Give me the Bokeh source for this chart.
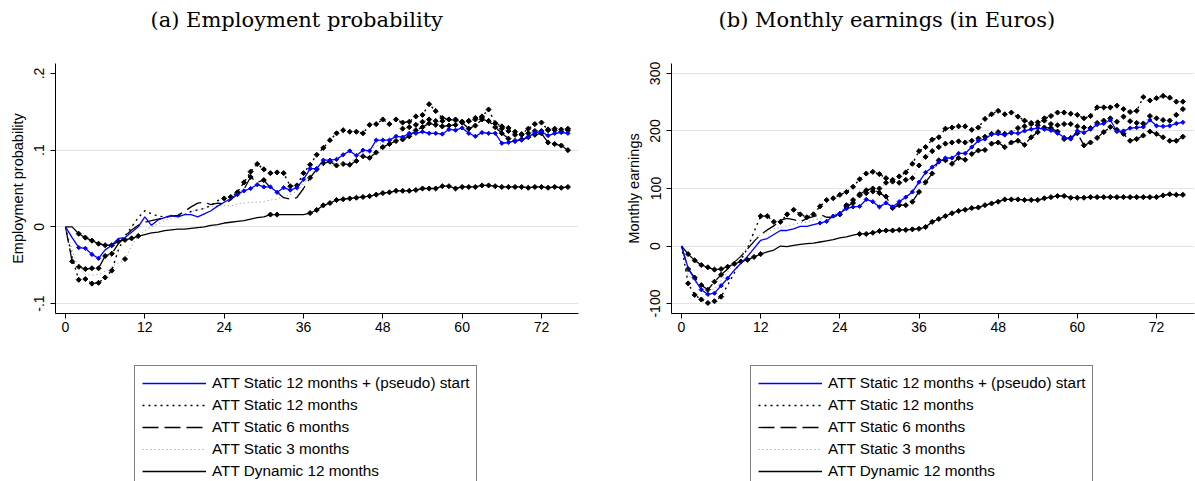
import math
from bokeh.plotting import figure
from bokeh.models import Range1d, FixedTicker, Legend, LegendItem, Title
from bokeh.layouts import row, column
from bokeh.embed import file_html
from bokeh.resources import INLINE

months = list(range(77))
x_ticks = [0, 12, 24, 36, 48, 60, 72]

series_labels = ["ATT Static 12 months + (pseudo) start", "ATT Static 12 months",
                 "ATT Static 6 months", "ATT Static 3 months", "ATT Dynamic 12 months"]

# ---------------- (a) Employment probability ----------------
emp_pseudo = [0, -0.014, -0.027, -0.028, -0.036, -0.041, -0.030, -0.024, -0.015, -0.014,
              -0.007, 0.000, 0.013, 0.002, 0.009, 0.012, 0.015, 0.013, 0.016, 0.016,
              0.013, 0.017, 0.021, 0.027, 0.032, 0.037, 0.042, 0.047, 0.050, 0.055,
              0.052, 0.052, 0.045, 0.051, 0.048, 0.051, 0.062, 0.076, 0.076, 0.087,
              0.087, 0.088, 0.094, 0.099, 0.093, 0.100, 0.099, 0.113, 0.113, 0.113,
              0.118, 0.117, 0.122, 0.122, 0.124, 0.122, 0.122, 0.121, 0.127, 0.126,
              0.129, 0.122, 0.118, 0.123, 0.122, 0.122, 0.109, 0.110, 0.112, 0.113,
              0.117, 0.123, 0.124, 0.119, 0.122, 0.123, 0.122]
emp_s12 = [0, -0.040, -0.069, -0.068, -0.074, -0.073, -0.066, -0.057, -0.030, -0.012,
           0.000, 0.012, 0.021, 0.017, 0.014, 0.013, 0.014, 0.015, 0.016, 0.020,
           0.022, 0.024, 0.028, 0.034, 0.037, 0.039, 0.045, 0.058, 0.072, 0.082,
           0.075, 0.070, 0.071, 0.070, 0.053, 0.054, 0.070, 0.081, 0.094, 0.103,
           0.113, 0.122, 0.126, 0.124, 0.124, 0.122, 0.133, 0.134, 0.140, 0.134,
           0.140, 0.136, 0.137, 0.144, 0.146, 0.160, 0.151, 0.142, 0.140, 0.139,
           0.137, 0.138, 0.142, 0.144, 0.153, 0.135, 0.131, 0.129, 0.124, 0.121,
           0.128, 0.134, 0.136, 0.126, 0.128, 0.124, 0.128]
emp_s6 = [0, -0.045, -0.052, -0.055, -0.054, -0.054, -0.038, -0.035, -0.022, -0.012,
          -0.004, 0.002, 0.006, 0.008, 0.010, 0.012, 0.014, 0.015, 0.020, 0.026,
          0.031, 0.032, 0.029, 0.031, 0.030, 0.035, 0.043, 0.049, 0.065, 0.058,
          0.061, 0.051, 0.045, 0.038, 0.036, 0.038, 0.050, 0.064, 0.075, 0.083,
          0.085, 0.080, 0.082, 0.081, 0.086, 0.092, 0.090, 0.097, 0.104, 0.108,
          0.112, 0.114, 0.118, 0.126, 0.130, 0.135, 0.133, 0.131, 0.132, 0.133,
          0.136, 0.128, 0.132, 0.140, 0.138, 0.130, 0.122, 0.115, 0.112, 0.114,
          0.117, 0.120, 0.122, 0.110, 0.108, 0.106, 0.100]
emp_s3 = [0, -0.030, -0.055, -0.062, -0.063, -0.062, -0.058, -0.052, -0.047, -0.042,
          -0.025, -0.012, -0.005, 0.000, 0.004, 0.008, 0.011, 0.012, 0.016, 0.020,
          0.022, 0.024, 0.026, 0.028, 0.028, 0.027, 0.030, 0.031, 0.032, 0.032,
          0.033, 0.035, 0.036, 0.040, 0.042, 0.046, 0.056, 0.067, 0.078, 0.082,
          0.084, 0.083, 0.082, 0.085, 0.090, 0.095, 0.100, 0.105, 0.110, 0.112,
          0.118, 0.128, 0.130, 0.133, 0.137, 0.140, 0.138, 0.138, 0.140, 0.140,
          0.137, 0.138, 0.140, 0.142, 0.138, 0.135, 0.128, 0.125, 0.120, 0.120,
          0.122, 0.125, 0.125, 0.127, 0.126, 0.127, 0.126]
emp_dyn = [0, 0.000, -0.009, -0.014, -0.018, -0.022, -0.024, -0.024, -0.019, -0.017,
           -0.015, -0.012, -0.010, -0.008, -0.007, -0.005, -0.004, -0.003, -0.003, -0.002,
           -0.001, 0.000, 0.002, 0.003, 0.005, 0.006, 0.007, 0.008, 0.010, 0.012,
           0.013, 0.016, 0.016, 0.016, 0.016, 0.016, 0.016, 0.018, 0.022, 0.028,
           0.031, 0.035, 0.036, 0.037, 0.038, 0.039, 0.040, 0.042, 0.044, 0.045,
           0.047, 0.047, 0.047, 0.048, 0.050, 0.050, 0.050, 0.053, 0.053, 0.050,
           0.052, 0.052, 0.052, 0.054, 0.054, 0.053, 0.052, 0.052, 0.052, 0.052,
           0.051, 0.052, 0.052, 0.051, 0.052, 0.051, 0.052]
# months with a marker (significant estimates)
emp_mark_pseudo = [2, 3, 4, 5] + list(range(26, 77))
emp_mark_s12 = [2, 3, 4, 5, 6, 7] + list(range(24, 77))
emp_mark_s6 = [1, 2, 3, 4, 5, 6, 7, 28, 30] + list(range(37, 77))
emp_mark_s3 = [9] + list(range(51, 77))
emp_mark_dyn = list(range(2, 12)) + [31, 32] + list(range(37, 77))
emp_yticks = [-0.1, 0, 0.1, 0.2]
emp_ytick_labels = ["-.1", "0", ".1", ".2"]
emp_grid = [-0.1, 0, 0.1]

# ---------------- (b) Monthly earnings ----------------
earn_pseudo = [0, -38, -58, -76, -84, -82, -69, -56, -42, -30,
               -18, -4, 10, 13, 20, 27, 27, 30, 34, 34,
               37, 40, 43, 52, 57, 65, 68, 69, 81, 77,
               68, 75, 68, 77, 85, 94, 111, 128, 137, 146,
               153, 153, 161, 161, 172, 183, 186, 194, 195, 193,
               197, 196, 200, 203, 205, 203, 201, 196, 189, 186,
               200, 197, 203, 211, 213, 219, 199, 200, 205, 206,
               207, 219, 209, 208, 209, 213, 215]
earn_s12 = [0, -65, -85, -93, -99, -96, -88, -68, -47, -24,
            -4, 25, 52, 52, 42, 42, 55, 63, 55, 50,
            55, 69, 80, 83, 89, 94, 103, 116, 126, 129,
            125, 118, 115, 121, 128, 143, 165, 172, 185, 189,
            204, 206, 208, 208, 202, 206, 221, 229, 235, 229,
            232, 225, 218, 214, 210, 222, 226, 232, 232, 230,
            228, 222, 226, 241, 241, 241, 244, 238, 233, 235,
            259, 253, 257, 261, 258, 251, 251]
earn_s6 = [0, -40, -55, -68, -76, -62, -50, -40, -28, -18,
           -5, 8, 20, 28, 35, 45, 48, 46, 42, 48,
           51, 55, 50, 50, 55, 68, 75, 90, 97, 100,
           92, 86, 66, 71, 71, 77, 94, 111, 126, 149,
           149, 143, 153, 150, 160, 166, 167, 178, 180, 172,
           180, 183, 176, 189, 198, 206, 205, 199, 186, 188,
           196, 175, 180, 188, 198, 207, 202, 195, 183, 186,
           192, 199, 195, 189, 183, 183, 190]
earn_s3 = [0, -50, -62, -72, -78, -75, -60, -45, -30, -15,
           -2, 10, 20, 25, 30, 32, 35, 38, 40, 42,
           45, 48, 50, 55, 60, 71, 80, 88, 92, 95,
           100, 110, 112, 110, 115, 118, 140, 155, 165, 172,
           178, 180, 182, 180, 183, 187, 190, 195, 198, 195,
           197, 205, 208, 212, 215, 218, 212, 210, 212, 212,
           208, 206, 205, 214, 218, 222, 216, 225, 217, 214,
           213, 226, 222, 219, 218, 228, 238]
earn_dyn = [0, -14, -25, -33, -37, -41, -40, -36, -31, -27,
            -24, -19, -14, -10, -7, 0, -1, 1, 3, 4,
            5, 7, 9, 11, 14, 16, 19, 21, 21, 23,
            26, 27, 27, 28, 28, 29, 30, 33, 42, 47,
            52, 57, 61, 63, 66, 67, 71, 74, 77, 81,
            81, 81, 80, 80, 80, 83, 85, 87, 87, 84,
            84, 84, 85, 85, 85, 85, 85, 85, 85, 85,
            85, 85, 85, 88, 90, 89, 89]
earn_mark_pseudo = [3, 4, 5, 6, 7] + list(range(21, 77))
earn_mark_s12 = [1, 2, 3, 4, 5, 6] + list(range(12, 77))
earn_mark_s6 = [1, 2, 3, 4, 5, 6] + list(range(24, 77))
earn_mark_s3 = list(range(25, 77))
earn_mark_dyn = list(range(1, 13)) + list(range(27, 77))
earn_yticks = [-100, 0, 100, 200, 300]
earn_ytick_labels = ["-100", "0", "100", "200", "300"]
earn_grid = [-100, 0, 100, 200, 300]

# ---------------- styling ----------------
STYLES = [
    dict(color="#0000ff", dash="solid", width=1.3, msize=3.0),   # pseudo start
    dict(color="black", dash="2 4", width=1.4, msize=3.6),       # static 12
    dict(color="black", dash="16 6", width=1.3, msize=3.6),      # static 6
    dict(color="#8c8c8c", dash="1 3", width=1.0, msize=3.6),     # static 3
    dict(color="black", dash="solid", width=1.3, msize=3.6),     # dynamic
]
SANS = "Liberation Sans"
TOP_H = 353
LEG_H = 481 - TOP_H


def make_panel(title, title_offset, ylabel, series, marks, yticks, ytick_labels, grid,
               xr, yr, width, bl, br):
    p = figure(width=width, height=TOP_H, output_backend="svg", toolbar_location=None,
               x_range=Range1d(*xr), y_range=Range1d(*yr),
               min_border_left=bl, min_border_right=br, min_border_top=62,
               min_border_bottom=40)
    p.outline_line_color = None
    p.xgrid.visible = False
    p.ygrid[0].ticker = FixedTicker(ticks=grid)
    p.ygrid.grid_line_color = "#e3e3e3"
    p.ygrid.grid_line_width = 1.2

    p.xaxis.ticker = FixedTicker(ticks=x_ticks)
    p.yaxis.ticker = FixedTicker(ticks=yticks)
    p.yaxis.major_label_overrides = {t: l for t, l in zip(yticks, ytick_labels)}
    p.yaxis.major_label_orientation = "vertical"
    for ax in (p.xaxis, p.yaxis):
        ax.axis_line_color = "black"
        ax.major_tick_line_color = "black"
        ax.minor_tick_line_color = None
        ax.major_tick_in = 0
        ax.major_tick_out = 5
        ax.major_label_text_font = SANS
        ax.major_label_text_font_size = "14px"
        ax.major_label_text_color = "black"
    p.xaxis.major_label_standoff = 3
    p.yaxis.major_label_standoff = 6
    p.yaxis.axis_label = ylabel
    p.yaxis.axis_label_text_font = SANS
    p.yaxis.axis_label_text_font_size = "14.5px"
    p.yaxis.axis_label_text_font_style = "normal"
    p.yaxis.axis_label_text_color = "black"
    p.yaxis.axis_label_standoff = 6

    p.add_layout(Title(text=" ", text_font_size="13px"), "above")
    p.add_layout(Title(text=title, text_font="DejaVu Serif", text_font_size="21px",
                       text_font_style="normal", text_color="black", align="left",
                       offset=title_offset), "above")

    order = [1, 2, 3, 4, 0]
    for i in order:
        st = STYLES[i]
        p.line(months, series[i], line_color=st["color"], line_dash=st["dash"],
               line_width=st["width"])
        mx = marks[i]
        my = [series[i][m] for m in mx]
        mc = st["color"] if i != 3 else "black"
        p.scatter(mx, my, marker="square", angle=math.pi / 4, size=st["msize"],
                  fill_color=mc, line_color=mc, line_width=1)
    return p


def make_legend(width, bl, series):
    # legend-only strip below each panel; its ranges lie away from the data so the
    # renderers serve only as legend samples
    q = figure(width=width, height=LEG_H, output_backend="svg", toolbar_location=None,
               x_range=Range1d(1000, 1001), y_range=Range1d(1000, 1001),
               x_axis_type=None, y_axis_type=None,
               min_border_left=bl, min_border_right=0, min_border_top=0,
               min_border_bottom=0)
    q.outline_line_color = None
    q.xgrid.visible = False
    q.ygrid.visible = False
    items = []
    for i in range(5):
        st = STYLES[i]
        r = q.line(months, series[i], line_color=st["color"], line_dash=st["dash"],
                   line_width=st["width"])
        items.append(LegendItem(label=series_labels[i], renderers=[r]))
    legend = Legend(items=items, location="top_left", margin=12, padding=7, spacing=2,
                    label_height=20, glyph_height=20, glyph_width=64,
                    label_standoff=6, label_text_font=SANS,
                    label_text_font_size="15.3px", label_text_color="black",
                    border_line_color="black", border_line_width=1,
                    background_fill_alpha=1.0)
    q.add_layout(legend)
    return q


emp_series = [emp_pseudo, emp_s12, emp_s6, emp_s3, emp_dyn]
earn_series = [earn_pseudo, earn_s12, earn_s6, earn_s3, earn_dyn]

pa = make_panel("(a) Employment probability", 95, "Employment probability",
                emp_series,
                [emp_mark_pseudo, emp_mark_s12, emp_mark_s6, emp_mark_s3, emp_mark_dyn],
                emp_yticks, emp_ytick_labels, emp_grid,
                (-1.513, 77.6), (-0.113, 0.213), 598, 55, 20)
pb = make_panel("(b) Monthly earnings (in Euros)", 47, "Monthly earnings",
                earn_series,
                [earn_mark_pseudo, earn_mark_s12, earn_mark_s6, earn_mark_s3, earn_mark_dyn],
                earn_yticks, earn_ytick_labels, earn_grid,
                (-1.516, 77.76), (-117.3, 317.3), 597, 73, 1)
la = make_legend(598, 122, emp_series)
lb = make_legend(597, 140, earn_series)

layout = column(row(pa, pb), row(la, lb))
open("out.html", "w").write(file_html(layout, INLINE))
